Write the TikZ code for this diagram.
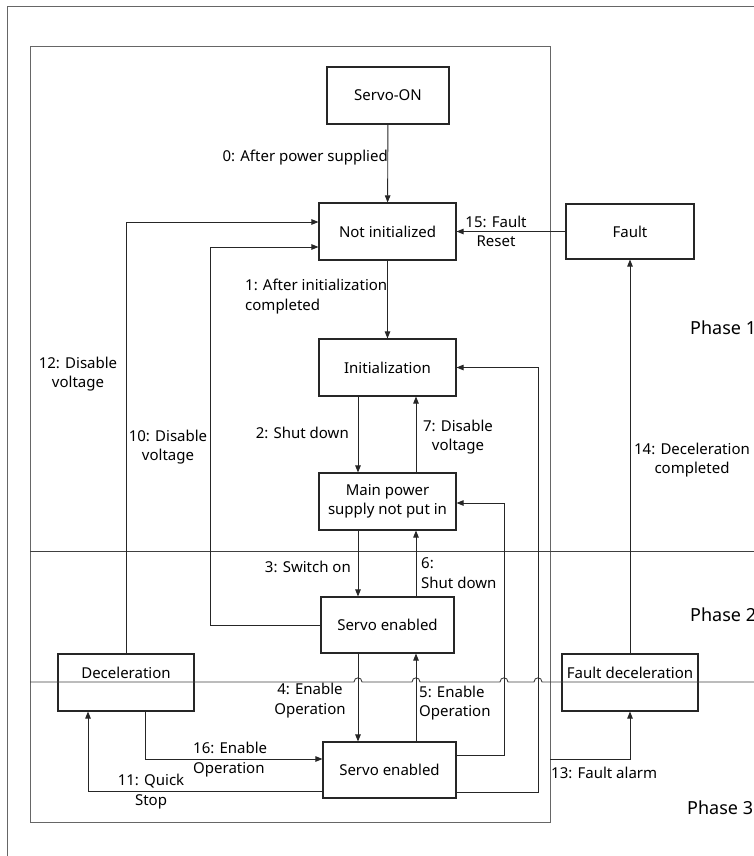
\documentclass[tikz,border=0pt]{standalone}
\usepackage{fontspec}
\setmainfont{Noto Sans}
\usetikzlibrary{arrows.meta,positioning}

\begin{document}
\begin{tikzpicture}[x=1pt, y=-1pt,
    box/.style={draw=black!85, line width=1.1pt, minimum width=137pt, minimum height=57pt,
        inner sep=0pt, align=center, font=\fontsize{15}{19.5}\selectfont},
    arr/.style={-{Triangle[length=7pt,width=5.5pt]}, line width=0.9pt, draw=black!85},
    wire/.style={line width=0.9pt, draw=black!75},
    frame/.style={line width=1pt, draw=black!60},
    lbl/.style={inner sep=0pt, align=center, font=\fontsize{15}{19.5}\selectfont},
    phase/.style={inner sep=0pt, anchor=west, font=\fontsize{18}{22}\selectfont}
]
    \useasboundingbox (0,0) rectangle (754,856);

    % outer frame and phase box
    \draw[frame] (7,856) -- (7,7) -- (754,7);
    \draw[frame] (30,47) rectangle (550,822);

    % lanes for the vertical transitions
    \coordinate (ldown) at (358,0);
    \coordinate (lup) at (416,0);

    % States
    \node[box, minimum width=122pt] (servoon) at (388,95.5) {Servo-ON};
    \node[box] (notinit) at (387.5,231.5) {Not initialized};
    \node[box, minimum width=128pt, minimum height=55pt] (fault) at (630,231.5) {Fault};
    \node[box] (init) at (387.5,367.5) {Initialization};
    \node[box] (mainpwr) at (387.5,501.5) {Main power\\supply not put in};
    \node[box, minimum width=133pt, minimum height=56pt] (srv1) at (387.5,625) {Servo enabled};
    \node[box, minimum width=133pt, minimum height=56pt] (srv2) at (389.5,770) {Servo enabled};
    \node[box, minimum width=136pt, label={[lbl, yshift=9.5pt]center:Deceleration}] (decel) at (126,682.5) {};
    \node[box, minimum width=136pt, label={[lbl, yshift=9.5pt]center:Fault deceleration}] (faultdecel) at (630,682.5) {};

    % Phase separators (jumps where the transitions cross)
    \draw[wire] (30,551) -- (754,551);
    \draw[wire] (30,682) foreach \bx in {358,416,504,538} {
        -- (\bx-4,682) .. controls (\bx-4,676.5) and (\bx+4,676.5) .. (\bx+4,682) } -- (754,682);

    \node[phase] (ph1) at (690,328) {Phase 1};
    \node[phase] (ph2) at (690,615) {Phase 2};
    \node[phase] (ph3) at (687,808) {Phase 3};

    % Transitions along the main column
    \draw[arr] (servoon) -- (notinit);
    \draw[arr] (notinit) -- (init);
    \draw[arr] (fault) -- (notinit);
    \draw[arr] (init.south -| ldown) -- (mainpwr.north -| ldown);
    \draw[arr] (mainpwr.north -| lup) -- (init.south -| lup);
    \draw[arr] (mainpwr.south -| ldown) -- (srv1.north -| ldown);
    \draw[arr] (srv1.north -| lup) -- (mainpwr.south -| lup);
    \draw[arr] (srv1.south -| ldown) -- (srv2.north -| ldown);
    \draw[arr] (srv2.north -| lup) -- (srv1.south -| lup);

    % Return paths on the right
    \draw[arr] ([yshift=15pt]srv2.east) -- ++(48,0) |- ([yshift=-1.5pt]mainpwr.east);
    \draw[arr] ([yshift=-22pt]srv2.east) -- ++(82,0) |- (init.east);

    % Return paths on the left
    \draw[arr] (srv1.west) -- ++(-110,0) |- ([yshift=-15.5pt]notinit.west);
    \draw[arr] (decel.north) |- ([yshift=9.5pt]notinit.west);
    \draw[arr] ([xshift=19pt]decel.south) |- ([yshift=11pt]srv2.west);
    \draw[arr] ([yshift=-21pt]srv2.west) -| ([xshift=-38pt]decel.south);

    % Fault branch
    \coordinate (alarm) at (550,759);
    \draw[arr] (alarm) -| (faultdecel.south);
    \draw[arr] (faultdecel) -- (fault);

    % Transition labels
    \node[lbl, anchor=east] (t0) at (388,158) {0: After power supplied};
    \node[lbl, anchor=west, align=left] (t1) at (245,296.5) {1: After initialization\\completed};
    \node[lbl] (t15) at (496,231.5) {15: Fault\\Reset};
    \node[lbl, anchor=east] (t2) at (349,433) {2: Shut down};
    \node[lbl] (t7) at (458,437) {7: Disable\\voltage};
    \node[lbl, anchor=east] (t3) at (351,567) {3: Switch on};
    \node[lbl, anchor=west, align=left] (t6) at (421,573) {6:\\Shut down};
    \node[lbl] (t10) at (168,447) {10: Disable\\voltage};
    \node[lbl] (t12) at (78,374) {12: Disable\\voltage};
    \node[lbl] (t4) at (310,700.5) {4: Enable\\Operation};
    \node[lbl, anchor=west, align=left] (t5) at (419,703) {5: Enable\\Operation};
    \node[lbl, anchor=west, align=left] (t16) at (193,759.5) {16: Enable\\Operation};
    \node[lbl] (t11) at (151,791.5) {11: Quick\\Stop};
    \node[lbl, anchor=west] (t13) at (551,773) {13: Fault alarm};
    \node[lbl] (t14) at (692,460) {14: Deceleration\\completed};
\end{tikzpicture}
\end{document}
